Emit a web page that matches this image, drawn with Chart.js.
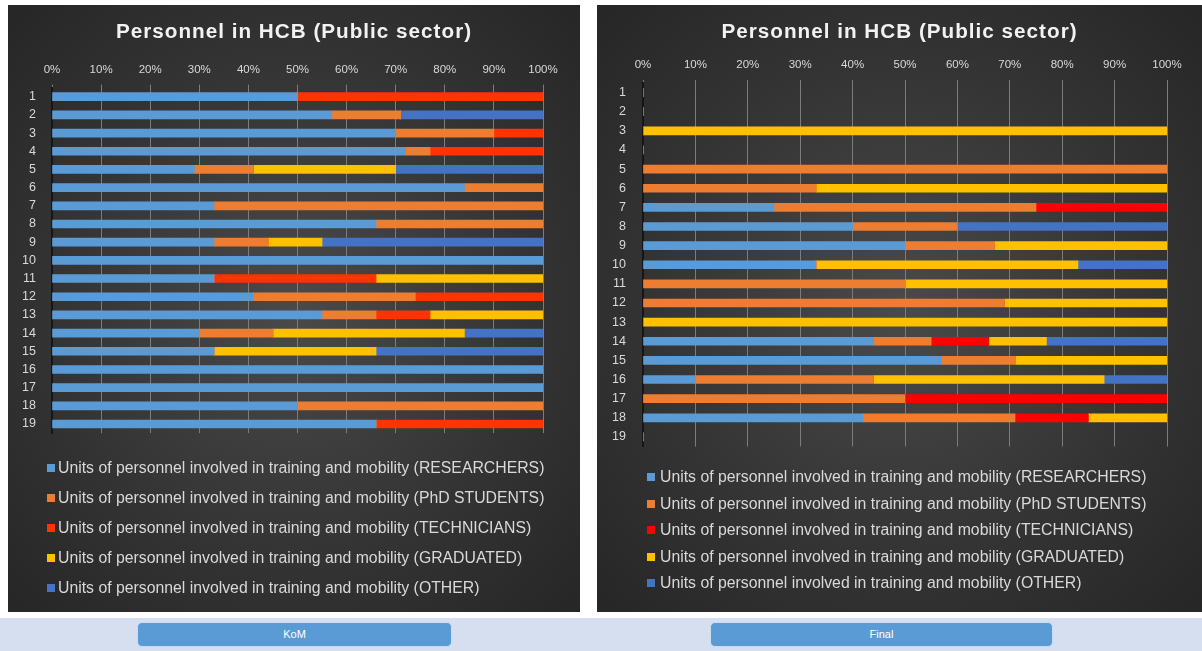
<!DOCTYPE html>
<html>
<head>
<meta charset="utf-8">
<script src="https://cdn.jsdelivr.net/npm/chart.js@4.4.1/dist/chart.umd.min.js"></script>
<style>
  body { margin: 0; width: 1202px; height: 651px; background: #fff; position: relative; overflow: hidden; font-family: 'Liberation Sans', Arial, sans-serif; }
  .panel { position: absolute; top: 5px; height: 607px; background: radial-gradient(ellipse at 50% 50%, #4a4a4a 0%, #333 60%, #262626 100%); }
  .panel canvas { position: absolute; left: 0; top: 0; }
  .title { position: absolute; left: 0; right: 0; top: 13px; line-height: 26px; text-align: center; color: #f2f2f2; font-size: 20.7px; font-weight: bold; letter-spacing: 1px; }
  .legend { position: absolute; }
  .legend div { position: relative; height: 18px; line-height: 18px; color: #d9d9d9; font-size: 15.8px; white-space: nowrap; }
  .legend span { position: absolute; top: 5px; width: 8px; height: 8px; }
  .strip { position: absolute; left: 0; top: 618px; width: 1202px; height: 33px; background: #d5dff0; }
  .btn { position: absolute; top: 4px; height: 23px; background: #5b9bd5; border: 1px solid #c9dcf0; border-radius: 5px; color: #fff; font-size: 11px; line-height: 23px; text-align: center; }
</style>
</head>
<body>
<div class="panel" id="komPanel" style="left:8px; width:572px;"><canvas id="kom" width="572" height="607"></canvas></div>
<div class="panel" id="finalPanel" style="left:597px; width:605px;"><canvas id="final" width="605" height="607"></canvas></div>
<div class="strip">
  <div class="btn" style="left:137px; width:313px;">KoM</div>
  <div class="btn" style="left:710px; width:341px;">Final</div>
</div>
<script>
const categories = ['1', '2', '3', '4', '5', '6', '7', '8', '9', '10', '11', '12', '13', '14', '15', '16', '17', '18', '19']
const seriesNames = [
  'Units of personnel involved in training and mobility (RESEARCHERS)',
  'Units of personnel involved in training and mobility (PhD STUDENTS)',
  'Units of personnel involved in training and mobility (TECHNICIANS)',
  'Units of personnel involved in training and mobility (GRADUATED)',
  'Units of personnel involved in training and mobility (OTHER)'
]
const chartTitle = 'Personnel in HCB (Public sector)'

// KoM (shares in %)
const komResearchers = [50, 57, 70, 72, 29, 84, 33, 66, 33, 100, 33, 41, 55, 30, 33, 100, 100, 50, 66]
const komPhd = [0, 14, 20, 5, 12, 16, 67, 34, 11, 0, 0, 33, 11, 15, 0, 0, 0, 50, 0]
const komTechnicians = [50, 0, 10, 23, 0, 0, 0, 0, 0, 0, 33, 26, 11, 0, 0, 0, 0, 0, 34]
const komGraduated = [0, 0, 0, 0, 29, 0, 0, 0, 11, 0, 34, 0, 23, 39, 33, 0, 0, 0, 0]
const komOther = [0, 29, 0, 0, 30, 0, 0, 0, 45, 0, 0, 0, 0, 16, 34, 0, 0, 0, 0]

// Final (shares in %)
const finResearchers = [0, 0, 0, 0, 0, 0, 25, 40, 50, 33, 0, 0, 0, 44, 57, 10, 0, 42, 0]
const finPhd = [0, 0, 0, 0, 100, 33, 50, 20, 17, 0, 50, 69, 0, 11, 14, 34, 50, 29, 0]
const finTechnicians = [0, 0, 0, 0, 0, 0, 25, 0, 0, 0, 0, 0, 0, 11, 0, 0, 50, 14, 0]
const finGraduated = [0, 0, 100, 0, 0, 67, 0, 0, 33, 50, 50, 31, 100, 11, 29, 44, 0, 15, 0]
const finOther = [0, 0, 0, 0, 0, 0, 0, 40, 0, 17, 0, 0, 0, 23, 0, 12, 0, 0, 0]

Chart.defaults.font.family = "'Liberation Sans', Arial, sans-serif"

function addTitleAndLegend (panelId, colours, g) {
  const panel = document.getElementById(panelId)
  const title = document.createElement('div')
  title.className = 'title'
  title.textContent = chartTitle
  panel.appendChild(title)

  const legend = document.createElement('div')
  legend.className = 'legend'
  legend.style.left = g.legendLeft + 'px'
  legend.style.top = (g.legendTop - 9) + 'px'
  seriesNames.forEach((name, i) => {
    const row = document.createElement('div')
    row.style.marginBottom = (g.legendStep - 18) + 'px'
    row.style.paddingLeft = g.legendTextGap + 'px'
    const box = document.createElement('span')
    box.style.left = '0px'
    box.style.background = colours[i]
    row.appendChild(box)
    row.appendChild(document.createTextNode(name))
    legend.appendChild(row)
  })
  panel.appendChild(legend)
}

function buildChart (id, values, colours, g) {
  return new Chart(document.getElementById(id), {
    type: 'bar',
    data: {
      labels: categories,
      datasets: seriesNames.map((name, i) => ({
        label: name,
        data: values[i],
        backgroundColor: colours[i],
        borderWidth: 0,
        barThickness: 8
      }))
    },
    options: {
      indexAxis: 'y',
      responsive: false,
      animation: false,
      layout: { padding: { left: 0, right: g.padRight, top: g.padTop, bottom: g.padBottom } },
      scales: {
        x: {
          position: 'top',
          stacked: true,
          min: 0,
          max: 100,
          ticks: {
            stepSize: 10,
            callback: (v) => v + '%',
            color: '#d9d9d9',
            font: { size: 11.5 },
            padding: g.xTickPad,
            maxRotation: 0,
            autoSkip: false
          },
          grid: { color: '#7c7c7c', tickColor: '#7c7c7c', tickLength: 3 },
          border: { display: false },
          afterFit: (s) => { s.height = g.xHeight }
        },
        y: {
          stacked: true,
          grid: { display: false, drawTicks: false },
          border: { display: true, color: '#161616', width: 2 },
          ticks: { color: '#d9d9d9', font: { size: 12.5 }, padding: g.yTickPad, autoSkip: false },
          afterFit: (s) => { s.width = g.yWidth }
        }
      },
      plugins: {
        legend: { display: false },
        tooltip: { enabled: false }
      }
    }
  })
}

const komColours = ['#5b9bd5', '#ed7d31', '#ff3300', '#ffc000', '#4472c4']
const finColours = ['#5b9bd5', '#ed7d31', '#ff0000', '#ffc000', '#4472c4']

buildChart('kom',
  [komResearchers, komPhd, komTechnicians, komGraduated, komOther], komColours,
  { padTop: 49.6, padRight: 37, padBottom: 178.9, yWidth: 44, yTickPad: 16, xHeight: 33, xTickPad: 7.7 })
addTitleAndLegend('komPanel', komColours, { legendLeft: 39, legendTop: 463, legendStep: 30, legendTextGap: 11 })

buildChart('final',
  [finResearchers, finPhd, finTechnicians, finGraduated, finOther], finColours,
  { padTop: 49.4, padRight: 35, padBottom: 165.5, yWidth: 46, yTickPad: 17, xHeight: 28.6, xTickPad: 8.1 })
addTitleAndLegend('finalPanel', finColours, { legendLeft: 50, legendTop: 472, legendStep: 26.6, legendTextGap: 13 })
</script>
</body>
</html>
